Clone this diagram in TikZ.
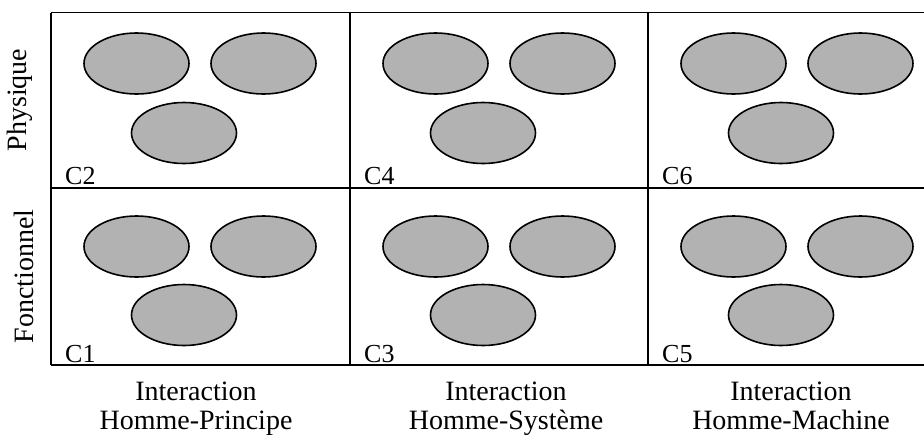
\documentclass[tikz,border=0pt]{standalone}
\usepackage{fontspec}
\setmainfont{Liberation Serif}
\usetikzlibrary{shapes.geometric}
\begin{document}
\begin{tikzpicture}[x=1pt,y=-1pt,
  blob/.style={ellipse,draw=black,line width=1.6pt,fill=black!30,minimum width=105pt,minimum height=61pt,inner sep=0pt},
  gridline/.style={line width=1.4pt},
  cellname/.style={anchor=base west,inner sep=0pt,font=\fontsize{26}{28}\selectfont},
  axislabel/.style={inner sep=0pt,font=\fontsize{28}{30}\selectfont},
  collabel/.style={anchor=base,inner sep=0pt,font=\fontsize{28}{30}\selectfont}]
\useasboundingbox (0,0) rectangle (924,440);
% grid
\coordinate (tl) at (51,12.5);
\coordinate (tr) at (924,12.5);
\coordinate (ml) at (51,188);
\coordinate (mr) at (924,188);
\coordinate (bl) at (51,365);
\coordinate (br) at (924,365);
\coordinate (v1t) at (350,12.5);
\coordinate (v1b) at (350,365);
\coordinate (v2t) at (648,12.5);
\coordinate (v2b) at (648,365);
\draw[gridline] (tl) -- (tr);
\draw[gridline] (ml) -- (mr);
\draw[line width=2pt] (bl) -- (br);
\draw[gridline] (tl) -- (bl);
\draw[gridline] (v1t) -- (v1b);
\draw[gridline] (v2t) -- (v2b);
% ellipses
\foreach \c/\x in {a/51,b/350,c/648}{
  \node[blob] (\c t1) at (\x+85.5,63.5) {};
  \node[blob] (\c t2) at (\x+212.5,63.5) {};
  \node[blob] (\c t3) at (\x+133,133) {};
  \node[blob] (\c b1) at (\x+85.5,246.5) {};
  \node[blob] (\c b2) at (\x+212.5,246.5) {};
  \node[blob] (\c b3) at (\x+133,315) {};
}
% cell names
\node[cellname] (C2) at (65,184.5) {C2};
\node[cellname] (C4) at (364,184.5) {C4};
\node[cellname] (C6) at (662,184.5) {C6};
\node[cellname] (C1) at (65,362) {C1};
\node[cellname] (C3) at (364,362) {C3};
\node[cellname] (C5) at (662,362) {C5};
% axis labels
\node[axislabel,rotate=90,anchor=base] (phys) at (27,100) {Physique};
\node[axislabel,rotate=90,anchor=base] (fonc) at (33,276.5) {Fonctionnel};
% column labels
\node[collabel] (i1) at (196,400) {Interaction};
\node[collabel] (h1) at (196,429) {Homme-Principe};
\node[collabel] (i2) at (506,400) {Interaction};
\node[collabel] (h2) at (506,429) {Homme-Système};
\node[collabel] (i3) at (791,400) {Interaction};
\node[collabel] (h3) at (791,429) {Homme-Machine};
\end{tikzpicture}
\end{document}
